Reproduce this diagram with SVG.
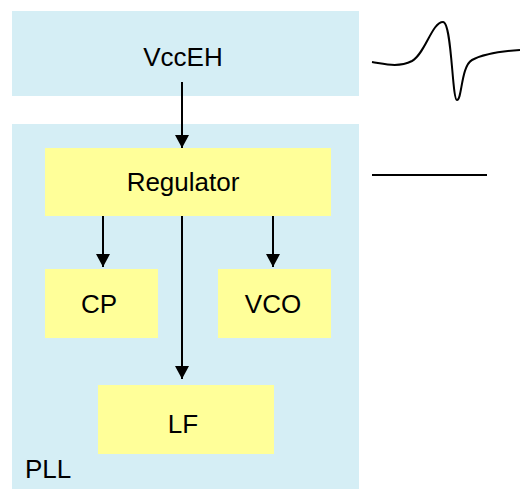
<svg xmlns="http://www.w3.org/2000/svg" width="520" height="489" viewBox="0 0 520 489">
<style>
.blue{fill:#D5EEF5;}
.yel{fill:#FFFF99;}
text{font-family:"Liberation Sans",Arial,sans-serif;font-size:26px;fill:#000;}
.c{text-anchor:middle;}
.line{stroke:#000;stroke-width:2;fill:none;}
</style>
<defs>
<marker id="arr" viewBox="0 0 13 14" refX="13" refY="7" markerWidth="13" markerHeight="14" markerUnits="userSpaceOnUse" orient="auto">
<path d="M0,0 L13,7 L0,14 Z" fill="#000"/>
</marker>
</defs>
<g id="vcceh"><rect class="blue" x="12" y="11" width="347" height="85"/><text class="c" x="183" y="66">VccEH</text></g>
<g id="pll"><rect class="blue" x="12" y="124" width="347" height="365"/><text x="25" y="478">PLL</text></g>
<g id="regulator"><rect class="yel" x="45" y="148" width="286" height="68"/><text class="c" x="183" y="191">Regulator</text></g>
<g id="cp"><rect class="yel" x="45" y="269" width="113" height="69"/><text class="c" x="99" y="313">CP</text></g>
<g id="vco"><rect class="yel" x="218" y="269" width="113" height="69"/><text class="c" x="273" y="313">VCO</text></g>
<g id="lf"><rect class="yel" x="98" y="385" width="176" height="69"/><text class="c" x="183" y="433">LF</text></g>
<g id="connectors">
<line class="line" x1="182" y1="82" x2="182" y2="148" marker-end="url(#arr)"/>
<line class="line" x1="103" y1="216" x2="103" y2="267" marker-end="url(#arr)"/>
<line class="line" x1="273" y1="216" x2="273" y2="267" marker-end="url(#arr)"/>
<line class="line" x1="182" y1="216" x2="182" y2="379" marker-end="url(#arr)"/>
</g>
<g id="waveforms">
<path class="line" d="M372,62 C385,64 398,68 412,61 C425,54 432,22 443,22 C452,22 452,100 457,100 C462,100 461,66 472,60 C485,53 505,51 520,50"/>
<line class="line" x1="372" y1="175" x2="487" y2="175"/>
</g>
</svg>
